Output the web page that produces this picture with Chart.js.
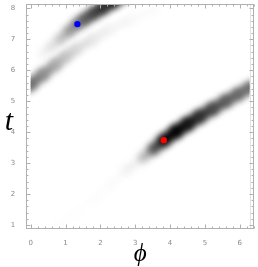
<!DOCTYPE html>
<html>
<head>
<meta charset="utf-8">
<script src="https://cdn.jsdelivr.net/npm/chart.js@4/dist/chart.umd.min.js"></script>
<style>
  html, body { margin: 0; padding: 0; background: #fff; overflow: hidden; }
</style>
</head>
<body>
<canvas id="densityPlot" width="258" height="267"></canvas>
<script>
// streak centre lines: phi, t, darkness (0 white .. 1 black)
var aPhi  = [0.55, 0.82, 1.30, 1.77, 2.25, 2.72, 3.22, 3.52, 3.82, 4.17, 4.50, 4.84, 5.22, 5.60, 5.95, 6.27, 6.60];
var aT    = [0.70, 0.94, 1.37, 1.79, 2.27, 2.75, 3.17, 3.45, 3.73, 4.02, 4.26, 4.50, 4.75, 5.00, 5.22, 5.42, 5.62];
var aDark = [0.003, 0.005, 0.007, 0.01, 0.012, 0.025, 0.1, 0.45, 0.85, 0.97, 0.88, 0.78, 0.68, 0.6, 0.55, 0.52, 0.5];

var bPhi  = [-0.30, 0.00, 0.35, 0.72, 1.00, 1.29, 1.77, 2.22, 2.90, 3.60];
var bT    = [5.32, 5.55, 5.86, 6.19, 6.44, 6.67, 6.99, 7.30, 7.65, 7.98];
var bDark = [0.55, 0.55, 0.46, 0.33, 0.24, 0.17, 0.1, 0.06, 0.03, 0.015];

var cPhi  = [0.30, 0.55, 0.84, 1.10, 1.34, 1.55, 1.80, 2.05, 2.35, 2.70];
var cT    = [6.50, 6.73, 7.00, 7.26, 7.49, 7.65, 7.83, 8.00, 8.20, 8.42];
var cDark = [0.03, 0.07, 0.17, 0.32, 0.45, 0.55, 0.64, 0.72, 0.78, 0.8];

var bluePoint = { x: 1.34, y: 7.49 };
var redPoint  = { x: 3.82, y: 3.74 };

var phiRange = [-0.126, 6.409];
var tRange   = [0.86, 8.14];
var phiMax   = 2 * Math.PI;

function gray(d) {
  var v = Math.round(255 * (1 - Math.min(1, d)));
  return "rgb(" + v + "," + v + "," + v + ")";
}

function makeStreak(phis, ts, darks) {
  var pts = [];
  for (var i = 0; i < phis.length; i++) pts.push({ x: phis[i], y: ts[i] });
  return {
    data: pts,
    streak: true,
    showLine: true,
    pointRadius: 0,
    borderCapStyle: "round",
    borderJoinStyle: "round",
    borderWidth: 8,
    segment: {
      borderColor: function (c) {
        return gray((darks[c.p0DataIndex] + darks[c.p1DataIndex]) / 2 * 1.12);
      },
      borderWidth: function (c) {
        var d = (darks[c.p0DataIndex] + darks[c.p1DataIndex]) / 2;
        return 6 + 6 * Math.sqrt(d);
      }
    }
  };
}

// blur the streaks and cut them at phi = 0 .. 2pi
var blurPlugin = {
  id: "blurStreaks",
  beforeDatasetDraw: function (chart, args) {
    if (!chart.data.datasets[args.index].streak) return;
    var ctx = chart.ctx, a = chart.chartArea, x = chart.scales.x;
    var l = x.getPixelForValue(0), r = x.getPixelForValue(phiMax);
    ctx.save();
    ctx.beginPath();
    ctx.rect(l, a.top, r - l, a.bottom - a.top);
    ctx.clip();
    ctx.filter = "blur(3.8px)";
  },
  afterDatasetDraw: function (chart, args) {
    if (!chart.data.datasets[args.index].streak) return;
    chart.ctx.restore();
  }
};

// Mathematica style frame with inward ticks
var framePlugin = {
  id: "frame",
  afterDatasetsDraw: function (chart) {
    var ctx = chart.ctx, a = chart.chartArea, x = chart.scales.x, y = chart.scales.y;
    ctx.save();
    var e = x.getPixelForValue(phiMax);
    ctx.strokeStyle = "#e2e2e2";
    ctx.lineWidth = 1;
    ctx.beginPath();
    ctx.moveTo(Math.round(e) + 0.5, a.top);
    ctx.lineTo(Math.round(e) + 0.5, a.bottom);
    ctx.stroke();

    var L = Math.round(a.left) + 0.5, R = Math.round(a.right) - 0.5;
    var T = Math.round(a.top) + 0.5, B = Math.round(a.bottom) - 0.5;
    ctx.strokeStyle = "#b0b0b0";
    ctx.strokeRect(L, T, R - L, B - T);
    ctx.beginPath();
    var v, p, len;
    for (var i = -1; i <= 33; i++) {
      v = i * 0.2;
      if (v < phiRange[0] || v > phiRange[1]) continue;
      p = Math.round(x.getPixelForValue(v)) + 0.5;
      len = (i % 5 === 0) ? 4 : 2;
      ctx.moveTo(p, B); ctx.lineTo(p, B - len);
      ctx.moveTo(p, T); ctx.lineTo(p, T + len);
    }
    for (var j = 4; j <= 41; j++) {
      v = j * 0.2;
      if (v < tRange[0] || v > tRange[1]) continue;
      p = Math.round(y.getPixelForValue(v)) + 0.5;
      len = (j % 5 === 0) ? 4 : 2;
      ctx.moveTo(L, p); ctx.lineTo(L + len, p);
      ctx.moveTo(R, p); ctx.lineTo(R - len, p);
    }
    ctx.stroke();

    // upright t label on the left
    ctx.fillStyle = "#000";
    ctx.font = "italic 30px 'Liberation Serif'";
    ctx.textAlign = "center";
    ctx.textBaseline = "alphabetic";
    ctx.fillText("t", 9, (a.top + a.bottom) / 2 + 13);
    ctx.restore();
  }
};

new Chart(document.getElementById("densityPlot").getContext("2d"), {
  type: "scatter",
  data: {
    datasets: [
      { data: [bluePoint], pointRadius: 3.2, pointBorderWidth: 0, backgroundColor: "#0000ff", borderColor: "#0000ff" },
      { data: [redPoint], pointRadius: 3.2, pointBorderWidth: 0, backgroundColor: "#ff0000", borderColor: "#ff0000" },
      makeStreak(aPhi, aT, aDark),
      makeStreak(bPhi, bT, bDark),
      makeStreak(cPhi, cT, cDark)
    ]
  },
  options: {
    responsive: false,
    devicePixelRatio: 1,
    animation: false,
    layout: { padding: { left: 0, right: 3, top: 0.6, bottom: 0 } },
    plugins: { legend: { display: false }, tooltip: { enabled: false } },
    scales: {
      x: {
        type: "linear",
        min: phiRange[0],
        max: phiRange[1],
        grid: { display: false },
        border: { display: false },
        ticks: { stepSize: 1, includeBounds: false, autoSkip: false, maxRotation: 0, padding: 2, color: "#8a8a8a", font: { size: 7, family: "DejaVu Sans" } },
        title: { display: true, text: "ϕ", color: "#000", padding: 0, font: { size: 25, family: "Liberation Serif", style: "italic", lineHeight: 1 } },
        afterFit: function (s) { s.height = 37.7; s.paddingLeft = 0; s.paddingRight = 0; }
      },
      y: {
        type: "linear",
        min: tRange[0],
        max: tRange[1],
        grid: { display: false },
        border: { display: false },
        ticks: { stepSize: 1, includeBounds: false, autoSkip: false, padding: 3, color: "#8a8a8a", font: { size: 7, family: "DejaVu Sans" } },
        afterFit: function (s) { s.width = 26.3; s.paddingTop = 0; s.paddingBottom = 0; }
      }
    }
  },
  plugins: [blurPlugin, framePlugin]
});
</script>
</body>
</html>
